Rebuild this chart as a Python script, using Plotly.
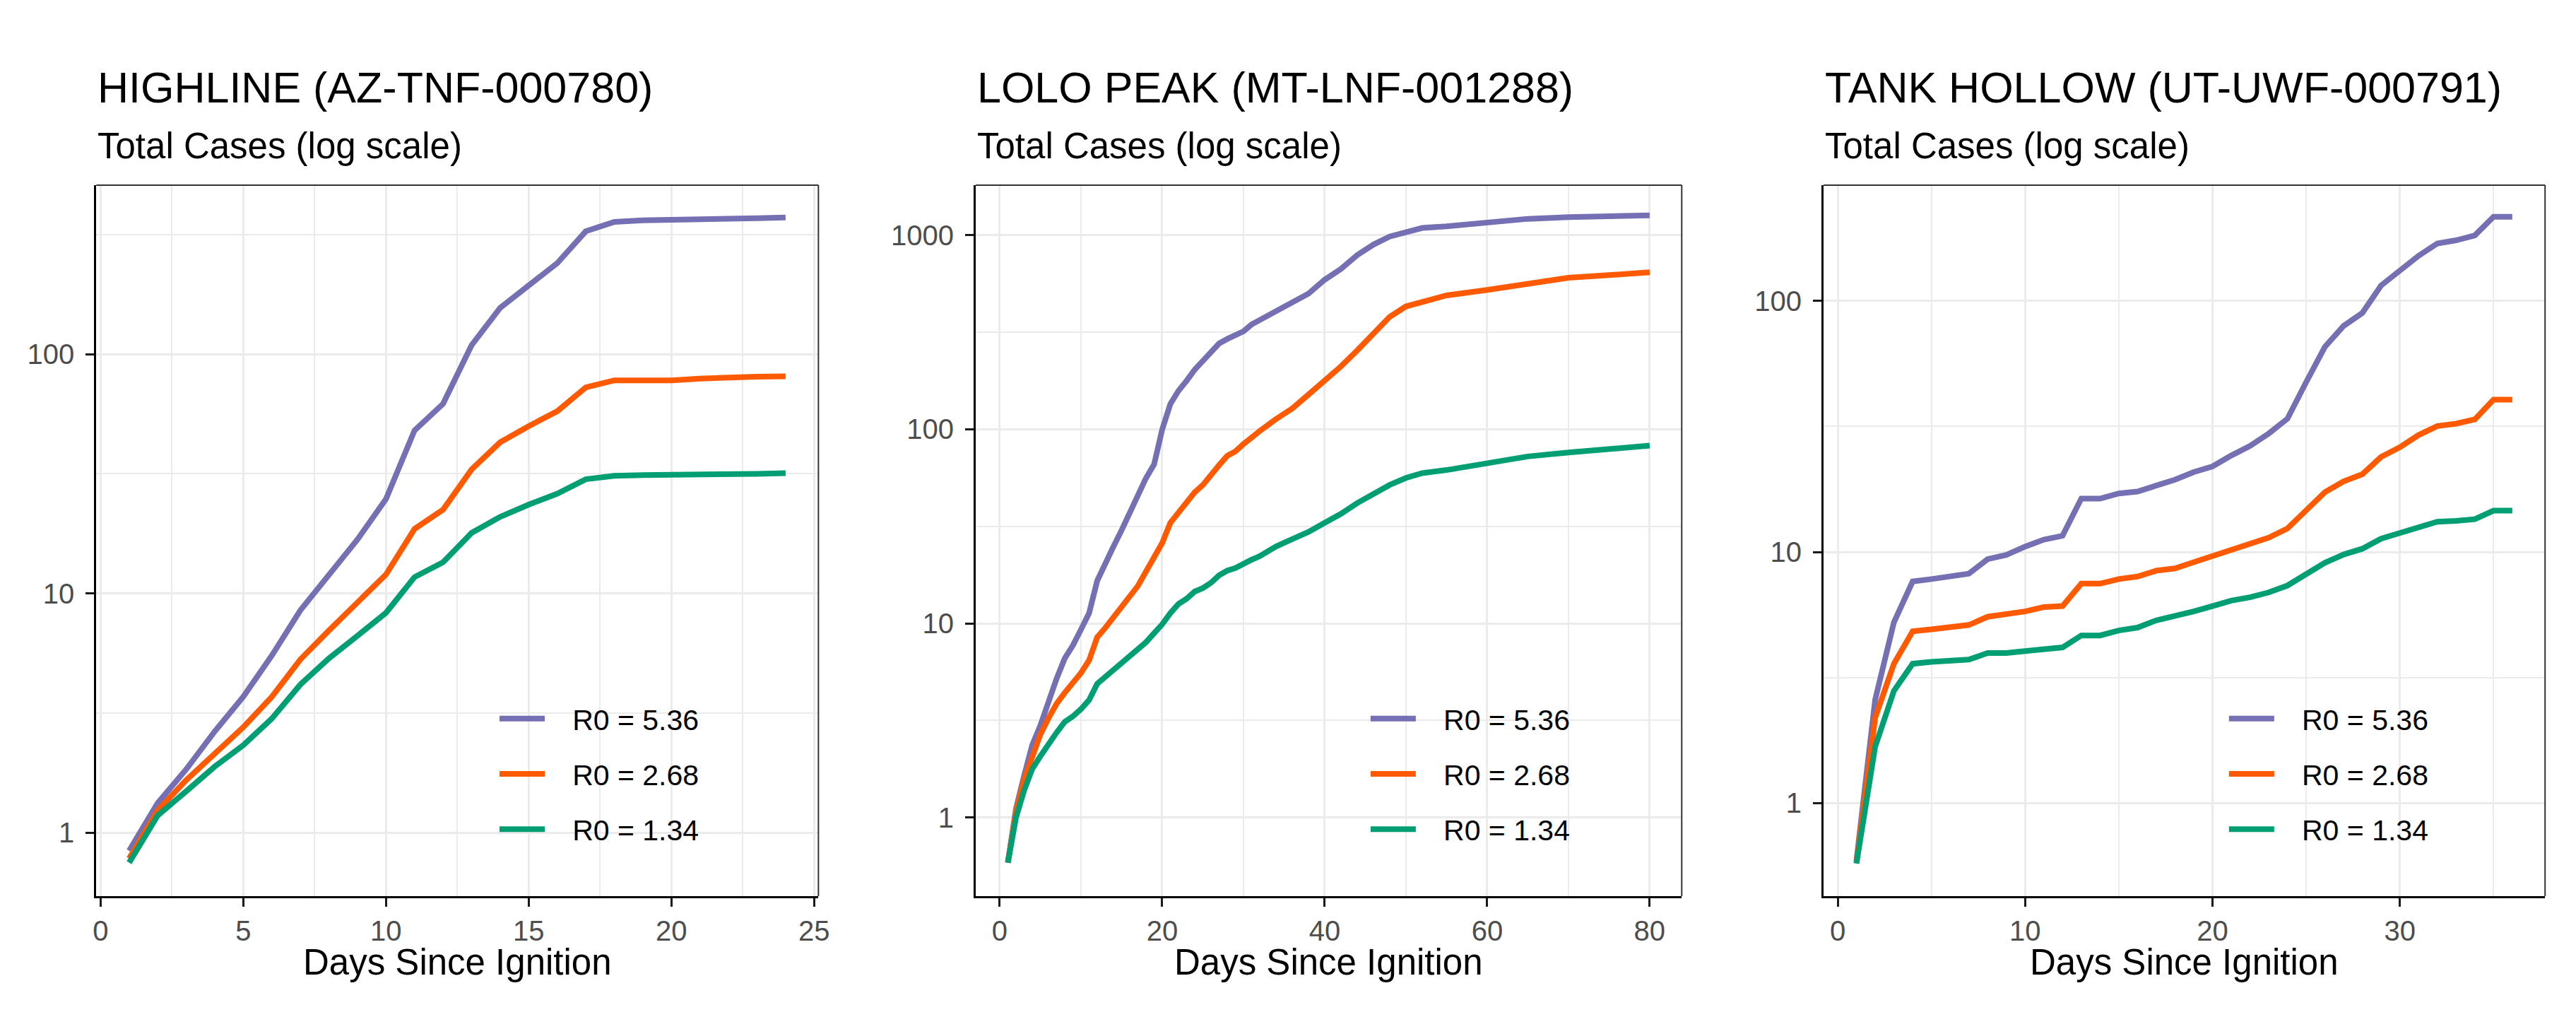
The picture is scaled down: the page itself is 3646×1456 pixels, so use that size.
import plotly.graph_objects as go

# ---- data (total cases, log scale) ----
series_names = ["R0 = 5.36", "R0 = 2.68", "R0 = 1.34"]
series_colors = ["#7570B3", "#FF5A00", "#009E73"]

panel_titles = ["HIGHLINE (AZ-TNF-000780)", "LOLO PEAK (MT-LNF-001288)", "TANK HOLLOW (UT-UWF-000791)"]

highline_days = list(range(1, 25))
highline_r536 = [0.84, 1.33, 1.84, 2.65, 3.7, 5.5, 8.5, 12, 16.8, 24.8, 48, 62, 109, 156, 195, 240,
                 326, 357, 362, 365, 367, 370, 370, 372]
highline_r268 = [0.78, 1.24, 1.66, 2.15, 2.76, 3.7, 5.3, 7.0, 9.1, 12, 18.6, 22.4, 33, 42.8, 50, 57.7,
                 72.6, 77.7, 77.7, 77.7, 79, 80, 80.5, 80.8]
highline_r134 = [0.75, 1.18, 1.49, 1.89, 2.32, 3.0, 4.16, 5.35, 6.65, 8.3, 11.7, 13.5, 17.9, 20.9, 23.5, 26.1,
                 30, 31, 31.2, 31.2, 31.2, 31.4, 31.6, 31.8]

lolo_days = list(range(1, 33)) + [34, 36, 38, 40, 42, 44, 46, 48, 50, 52, 55, 60, 65, 70, 75, 80]
lolo_r536 = [0.585, 1.11, 1.64, 2.36, 2.98, 4.03, 5.2, 6.6, 7.7, 9.3, 11.3, 16.6, 20.6, 24.9, 30.2, 37.5,
             45, 56, 66, 100, 135, 158, 178, 203, 225, 252, 277, 292, 305, 320, 347, 365,
             410, 450, 500, 590, 670, 790, 895, 985, 1030, 1090, 1112, 1155, 1215, 1240, 1250, 1265]
lolo_r268 = [0.585, 1.07, 1.57, 2.03, 2.68, 3.25, 3.86, 4.39, 4.89, 5.56, 6.46, 8.5, 9.5, 10.8, 12, 13.7,
             15.6, 18.5, 21.9, 26, 33, 37.5, 41.7, 47.4, 51.7, 57.5, 65.4, 73, 77, 84, 91, 98,
             113, 128, 151, 178, 211, 255, 315, 380, 430, 455, 490, 523, 566, 604, 623, 644]
lolo_r134 = [0.585, 1.0, 1.38, 1.78, 2.07, 2.41, 2.74, 3.11, 3.32, 3.62, 4.03, 4.89, 5.32, 5.8, 6.3, 6.88,
             7.5, 8.0, 8.9, 9.9, 11.3, 12.6, 13.4, 14.6, 15.2, 16.2, 17.7, 18.7, 19.3, 20.4, 21.3, 22.2,
             24.9, 27.2, 29.6, 33, 36.7, 41.7, 46.4, 51.7, 56.2, 59.5, 61.7, 67, 72.5, 76, 79, 82.4]

tank_days = list(range(1, 37))
tank_r536 = [0.59, 2.58, 5.25, 7.63, 7.8, 7.98, 8.2, 9.36, 9.73, 10.5, 11.2, 11.6, 16.3, 16.3, 17.1, 17.4,
             18.4, 19.4, 20.8, 21.9, 24.2, 26.4, 29.6, 33.9, 47.4, 65.5, 79.4, 89.4, 115, 131, 151, 169,
             174, 182, 216, 216]
tank_r268 = [0.58, 2.19, 3.59, 4.83, 4.92, 5.0, 5.12, 5.52, 5.65, 5.8, 6.03, 6.09, 7.48, 7.48, 7.8, 7.98,
             8.42, 8.6, 9.1, 9.65, 10.2, 10.8, 11.4, 12.4, 14.7, 17.3, 19.1, 20.4, 23.9, 26.1, 29.2, 31.7,
             32.4, 33.7, 40.4, 40.4]
tank_r134 = [0.575, 1.68, 2.8, 3.59, 3.65, 3.71, 3.73, 3.96, 3.96, 4.03, 4.1, 4.17, 4.65, 4.65, 4.87, 5.0,
             5.34, 5.55, 5.8, 6.09, 6.4, 6.6, 6.9, 7.35, 8.2, 9.05, 9.77, 10.3, 11.3, 11.9, 12.7, 13.2,
             13.3, 13.5, 14.6, 14.6]

x_ticks = [[0, 5, 10, 15, 20, 25], [0, 20, 40, 60, 80], [0, 10, 20, 30]]
x_minor = [[2.5, 7.5, 12.5, 17.5, 22.5], [10, 30, 50, 70], [5, 15, 25, 35]]
y_ticks = [[1, 10, 100], [1, 10, 100, 1000], [1, 10, 100]]
y_minor = [[3.162, 31.62, 316.2], [3.162, 31.62, 316.2], [3.162, 31.62]]

panels = [
    (highline_days, [highline_r536, highline_r268, highline_r134]),
    (lolo_days, [lolo_r536, lolo_r268, lolo_r134]),
    (tank_days, [tank_r536, tank_r268, tank_r134]),
]

# ---- layout geometry (pixels of a 3646 x 1456 canvas) ----
W, H = 3646, 1456
x_dom_px = [(124, 1152), (1376, 2381), (2583, 3610)]
y_top_px, y_bot_px = 254, 1260
x_ranges = [[-0.15, 25.15], [-2.95, 83.95], [-0.75, 37.75]]
y_ranges = [[-0.265, 2.706], [-0.405, 3.258], [-0.37, 2.46]]
legend_x_px = [693, 1933, 3155]

FONT = "Liberation Sans, Arial, sans-serif"
PAD = "\u00a0\u00a0\u00a0"  # widen the gap between legend key and label

fig = go.Figure()

for i, (days, vals) in enumerate(panels):
    n = "" if i == 0 else str(i + 1)
    for name, color, v in zip(series_names, series_colors, vals):
        fig.add_trace(go.Scatter(
            x=days, y=v, mode="lines", name=PAD + name,
            line=dict(color=color, width=8),
            xaxis="x" + n, yaxis="y" + n,
            legend="legend" + n, legendgroup=name + n,
        ))

layout = dict(
    width=W, height=H,
    margin=dict(l=0, r=0, t=0, b=0),
    paper_bgcolor="white", plot_bgcolor="white",
    font=dict(family=FONT, color="black"),
    showlegend=True,
)

annotations = []
shapes = []
for i in range(3):
    n = "" if i == 0 else str(i + 1)
    x0, x1 = x_dom_px[i]
    layout["xaxis" + n] = dict(
        domain=[x0 / W, x1 / W], anchor="y" + n, range=x_ranges[i],
        tickvals=x_ticks[i], ticks="outside", ticklen=12, tickwidth=3, tickcolor="#1a1a1a",
        tickfont=dict(size=40, color="#4D4D4D"),
        showline=True, linecolor="black", linewidth=3,
        showgrid=True, gridcolor="#EBEBEB", gridwidth=3, zeroline=False,
        minor=dict(tickvals=x_minor[i], showgrid=True, gridcolor="#EBEBEB", gridwidth=1.8, ticklen=0),
    )
    layout["yaxis" + n] = dict(
        domain=[1 - y_bot_px / H, 1 - y_top_px / H], anchor="x" + n, type="log", range=y_ranges[i],
        tickvals=y_ticks[i], ticktext=[str(t) for t in y_ticks[i]],
        ticks="outside", ticklen=12, tickwidth=3, tickcolor="#1a1a1a",
        tickfont=dict(size=40, color="#4D4D4D"), ticklabelstandoff=8,
        showline=True, linecolor="black", linewidth=3,
        showgrid=True, gridcolor="#EBEBEB", gridwidth=3, zeroline=False,
        minor=dict(tickvals=y_minor[i], showgrid=True, gridcolor="#EBEBEB", gridwidth=1.8, ticklen=0),
    )
    layout["legend" + n] = dict(
        x=legend_x_px[i] / W, y=1 - 1087 / H, xanchor="left", yanchor="middle",
        font=dict(size=41, color="black", family=FONT), bgcolor="rgba(0,0,0,0)",
        traceorder="grouped", tracegroupgap=22, itemwidth=64,
    )
    annotations.append(dict(text=panel_titles[i], x=x0 / W, y=1 - 152 / H, xref="paper", yref="paper",
                            xanchor="left", yanchor="bottom", showarrow=False,
                            font=dict(size=61, color="black")))
    annotations.append(dict(text="Total Cases (log scale)", x=x0 / W, y=1 - 229 / H, xref="paper", yref="paper",
                            xanchor="left", yanchor="bottom", showarrow=False,
                            font=dict(size=51, color="black")))
    annotations.append(dict(text="Days Since Ignition", x=(x0 + x1) / 2 / W, y=1 - 1384 / H,
                            xref="paper", yref="paper", xanchor="center", yanchor="bottom", showarrow=False,
                            font=dict(size=51, color="black")))
    # thin top / right panel border
    shapes.append(dict(type="line", xref="x" + n + " domain", yref="y" + n + " domain",
                       x0=0, x1=1, y0=1, y1=1, line=dict(color="#333333", width=2)))
    shapes.append(dict(type="line", xref="x" + n + " domain", yref="y" + n + " domain",
                       x0=1, x1=1, y0=0, y1=1, line=dict(color="#333333", width=2)))

layout["annotations"] = annotations
layout["shapes"] = shapes
fig.update_layout(**layout)

fig.write_html("out.html")
